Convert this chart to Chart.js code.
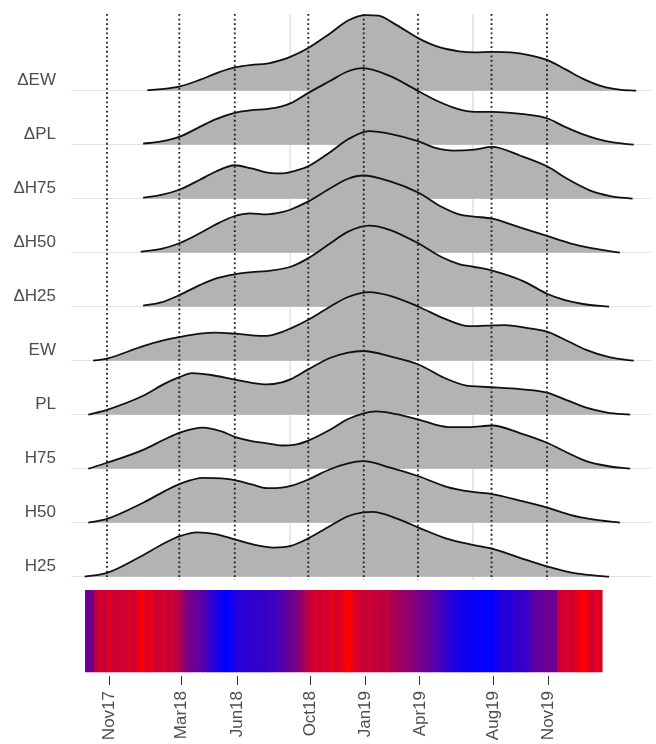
<!DOCTYPE html>
<html>
<head>
<meta charset="utf-8">
<script src="https://cdn.jsdelivr.net/npm/chart.js@4.4.1/dist/chart.umd.min.js"></script>
<style>
html,body{margin:0;padding:0;background:#ffffff;}
#wrap{width:656px;height:744px;position:relative;}
</style>
</head>
<body>
<div id="wrap"><canvas id="c" width="656" height="744"></canvas></div>
<script>
// ---------- DATA (x = days since 1 Nov 2017) ----------
const rowNames = ['H25', 'H50', 'H75', 'PL', 'EW', 'ΔH25', 'ΔH50', 'ΔH75', 'ΔPL', 'ΔEW']; // bottom -> top

// density curves: [day, density (in row-heights)]
const h25 = [[-37,0],[0,0.07],[55,0.37],[95,0.62],[121,0.75],[149,0.82],[180,0.79],[212,0.69],[245,0.59],[276,0.54],[305,0.57],[334,0.71],[370,0.94],[400,1.12],[425,1.19],[441,1.2],[480,1.08],[517,0.91],[565,0.7],[607,0.59],[639,0.52],[685,0.35],[730,0.19],[778,0.06],[833,0]];
const h50 = [[-31,0],[0,0.07],[60,0.37],[95,0.58],[121,0.72],[160,0.83],[190,0.82],[212,0.79],[240,0.71],[265,0.64],[290,0.65],[305,0.68],[334,0.8],[370,0.99],[400,1.1],[425,1.14],[470,1.02],[517,0.86],[565,0.66],[607,0.57],[639,0.53],[685,0.41],[730,0.28],[770,0.14],[806,0.06],[851,0]];
const h75 = [[-31,0],[0,0.11],[60,0.35],[95,0.54],[121,0.67],[160,0.76],[190,0.69],[212,0.59],[240,0.51],[265,0.47],[290,0.43],[310,0.44],[334,0.52],[370,0.72],[400,0.92],[425,1.02],[446,1.06],[480,1.01],[517,0.91],[567,0.77],[600,0.77],[639,0.8],[685,0.66],[730,0.48],[765,0.29],[795,0.14],[830,0.05],[868,0]];
const pl  = [[-31,0],[0,0.09],[60,0.35],[95,0.57],[121,0.7],[141,0.77],[170,0.74],[212,0.65],[240,0.59],[265,0.56],[290,0.6],[305,0.66],[334,0.84],[370,1.05],[400,1.15],[425,1.18],[470,1.08],[517,0.93],[560,0.68],[596,0.54],[620,0.52],[650,0.5],[690,0.47],[730,0.41],[765,0.26],[795,0.13],[830,0.04],[868,0]];
const ew  = [[-23,0],[0,0.04],[60,0.27],[95,0.38],[121,0.44],[154,0.5],[180,0.52],[212,0.5],[240,0.47],[265,0.46],[290,0.53],[305,0.6],[334,0.76],[370,1.0],[400,1.18],[435,1.27],[470,1.2],[517,1.0],[560,0.78],[601,0.64],[630,0.65],[660,0.66],[695,0.61],[730,0.54],[765,0.36],[795,0.2],[835,0.06],[874,0]];
const dH25 = [[60,0.02],[90,0.08],[121,0.22],[154,0.4],[180,0.52],[212,0.6],[240,0.64],[265,0.66],[305,0.74],[334,0.9],[370,1.17],[400,1.39],[435,1.5],[470,1.42],[517,1.17],[555,0.92],[584,0.79],[608,0.74],[639,0.67],[668,0.57],[695,0.45],[730,0.24],[760,0.12],[790,0.05],[833,0]];
const dH50 = [[56,0.02],[90,0.07],[121,0.18],[154,0.36],[180,0.52],[212,0.68],[237,0.73],[265,0.71],[290,0.75],[305,0.8],[334,0.95],[370,1.19],[400,1.37],[425,1.43],[470,1.32],[517,1.11],[555,0.85],[584,0.71],[608,0.67],[639,0.63],[685,0.47],[730,0.31],[770,0.17],[806,0.08],[851,0]];
const dH75 = [[60,0.02],[90,0.07],[121,0.17],[154,0.35],[180,0.5],[212,0.62],[240,0.56],[270,0.48],[292,0.47],[310,0.51],[334,0.6],[370,0.86],[400,1.1],[435,1.25],[470,1.2],[517,1.06],[545,0.94],[575,0.89],[610,0.91],[639,0.96],[685,0.8],[730,0.6],[765,0.36],[800,0.16],[835,0.05],[872,0]];
const dPL = [[60,0.02],[90,0.06],[121,0.15],[154,0.33],[180,0.47],[212,0.59],[240,0.64],[265,0.66],[290,0.71],[305,0.77],[334,0.96],[370,1.18],[400,1.36],[425,1.42],[470,1.27],[517,0.99],[550,0.8],[580,0.67],[610,0.61],[639,0.61],[695,0.56],[730,0.49],[760,0.33],[790,0.19],[830,0.06],[874,0]];
const dEW = [[67,0.01],[91,0.03],[121,0.08],[154,0.2],[183,0.33],[212,0.43],[240,0.48],[265,0.5],[290,0.57],[305,0.63],[334,0.79],[370,1.06],[400,1.3],[430,1.4],[450,1.39],[480,1.22],[517,0.97],[550,0.81],[584,0.73],[610,0.71],[639,0.72],[670,0.71],[700,0.66],[730,0.57],[760,0.4],[790,0.22],[822,0.08],[850,0.02],[878,0]];

// reference date lines / tick labels
const tickDays   = [0, 120, 212, 334, 426, 516, 638, 730];
const tickLabels = ['Nov17', 'Mar18', 'Jun18', 'Oct18', 'Jan19', 'Apr19', 'Aug19', 'Nov19'];
const gridDays   = [304, 607];

// colour strip: weekly values (0 = blue, 1 = red), first week starts at day -41
const stripStartDay = -41;
const stripWeekDays = 7;
const stripValues = [
  0.42,0.44,0.72,0.84,0.78,0.86,0.8,0.78,0.84,0.8,0.86,0.8,0.9,1.0,0.84,0.94,0.8,0.8,0.84,0.78,
  0.8,0.76,0.7,0.55,0.45,0.42,0.4,0.35,0.3,0.22,0.15,0.1,0.03,0.0,0.06,0.12,0.15,0.17,0.16,0.2,
  0.18,0.22,0.2,0.25,0.24,0.28,0.3,0.38,0.4,0.45,0.5,0.62,0.7,0.78,0.84,0.8,0.86,0.8,0.92,0.84,
  0.86,0.95,1.0,0.9,0.84,0.8,0.78,0.8,0.76,0.78,0.74,0.76,0.7,0.66,0.62,0.6,0.56,0.55,0.5,0.45,
  0.42,0.38,0.35,0.3,0.26,0.2,0.16,0.12,0.1,0.07,0.05,0.04,0.02,0.04,0.02,0.0,0.0,0.06,0.12,0.15,
  0.14,0.18,0.2,0.22,0.2,0.28,0.35,0.4,0.38,0.45,0.4,0.42,0.8,0.82,0.86,0.8,0.88,0.94,1.0,0.86,
  0.82,0.9,0.82
];

// ---------- LAYOUT CONSTANTS ----------
const Y_MAX = 11.68, Y_MIN = -0.839;
const PANEL_TOP = 11.42, PANEL_BOTTOM = 0.94;
const STRIP_TOP = 0.754, STRIP_BOTTOM = -0.77;
const SEAM_OVERLAP = 1.6; // days of overlap between adjacent strip cells (hides anti-alias seams)

Chart.defaults.font.family = "'Liberation Sans', Arial, sans-serif";

const ridgeSeries = [h25, h50, h75, pl, ew, dH25, dH50, dH75, dPL, dEW];
const datasets = [];

ridgeSeries.forEach((s, i) => {
  const base = i + 1;
  datasets.push({
    type: 'line', label: rowNames[i], xAxisID: 'x', yAxisID: 'y',
    data: s.map(p => ({x: p[0], y: base + p[1]})),
    borderColor: '#111111', borderWidth: 1.8, backgroundColor: '#b3b3b3',
    fill: {value: base}, pointRadius: 0, cubicInterpolationMode: 'monotone',
    order: i
  });
});

gridDays.forEach(d => {
  datasets.push({
    type: 'line', xAxisID: 'x', yAxisID: 'y',
    data: [{x: d, y: PANEL_TOP}, {x: d, y: PANEL_BOTTOM}],
    borderColor: '#e3e3e3', borderWidth: 1, pointRadius: 0, fill: false, order: 100
  });
});

tickDays.forEach(d => {
  datasets.push({
    type: 'line', xAxisID: 'x', yAxisID: 'y',
    data: [{x: d, y: PANEL_TOP}, {x: d, y: PANEL_BOTTOM}],
    borderColor: '#1a1a1a', borderWidth: 1.8, borderDash: [1.8, 2.8],
    pointRadius: 0, fill: false, order: -10
  });
});

// colour strip: one filled cell per week on the bottom date axis
const toColor = v => `rgb(${Math.round(255 * v)},0,${Math.round(255 * (1 - v))})`;
stripValues.forEach((v, i) => {
  const d0 = stripStartDay + stripWeekDays * i;
  const d1 = d0 + stripWeekDays + (i < stripValues.length - 1 ? SEAM_OVERLAP : 0);
  const c = toColor(v);
  datasets.push({
    type: 'line', xAxisID: 'x2', yAxisID: 'y',
    data: [{x: d0, y: STRIP_TOP}, {x: d1, y: STRIP_TOP}],
    borderColor: 'rgba(0,0,0,0)', borderWidth: 0, backgroundColor: c,
    fill: {value: STRIP_BOTTOM}, pointRadius: 0, tension: 0, order: 50
  });
});

new Chart(document.getElementById('c'), {
  type: 'line',
  data: {datasets},
  options: {
    responsive: false, animation: false, devicePixelRatio: 1, events: [],
    layout: {padding: {top: 0, right: 5, bottom: 0, left: 0}},
    plugins: {legend: {display: false}, tooltip: {enabled: false}},
    scales: {
      x: {
        type: 'linear', display: false, offset: false, min: -59.7, max: 902.6
      },
      x2: {
        type: 'linear', position: 'bottom', offset: false, min: -64.0, max: 900.2,
        afterBuildTicks: s => { s.ticks = tickDays.map(v => ({value: v})); },
        afterFit: s => { s.height = 68; s.paddingLeft = 0; s.paddingRight = 0; },
        grid: {offset: false, drawOnChartArea: false, drawTicks: true, tickLength: 9, tickColor: '#333333', tickWidth: 1},
        border: {display: false},
        ticks: {
          autoSkip: false, minRotation: 90, maxRotation: 90, padding: 6,
          color: '#4d4d4d', font: {size: 17},
          callback: v => tickLabels[tickDays.indexOf(v)]
        }
      },
      y: {
        type: 'linear', min: Y_MIN, max: Y_MAX, beginAtZero: false,
        afterBuildTicks: s => { s.ticks = rowNames.map((_, i) => ({value: i + 1})); },
        afterFit: s => { s.width = 71; s.paddingTop = 0; s.paddingBottom = 0; },
        grid: {color: '#e3e3e3', lineWidth: 1, drawTicks: false},
        border: {display: false},
        ticks: {
          autoSkip: false, padding: 15, labelOffset: -10,
          color: '#4d4d4d', font: {size: 17},
          callback: v => rowNames[v - 1]
        }
      }
    }
  }
});
</script>
</body>
</html>
